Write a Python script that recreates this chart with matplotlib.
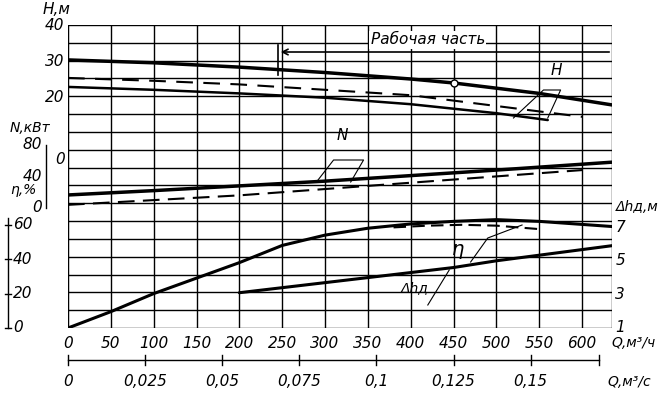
import numpy as np
import matplotlib
matplotlib.use('Agg')
import matplotlib.pyplot as plt

# Подача, м3/ч
q_h_top = [0, 100, 200, 300, 400, 450, 550, 635]
h_top = [30.3, 29.5, 28.3, 26.8, 25.0, 23.9, 21.0, 17.8]
q_h_dash = [0, 100, 200, 300, 400, 500, 600]
h_dash = [25.3, 24.5, 23.5, 22.0, 20.5, 17.5, 14.5]
q_h_low = [0, 100, 200, 300, 400, 500, 560]
h_low = [22.8, 22.0, 21.0, 19.8, 18.0, 15.5, 13.6]

q_n = [0, 100, 200, 300, 400, 500, 635]
n_top = [16.5, 22, 28, 34, 41, 48, 58]
q_n2 = [0, 100, 200, 300, 400, 500, 600]
n_low = [4, 10, 16, 24, 32, 40, 48]

q_eta = [0, 50, 100, 150, 200, 250, 300, 350, 400, 450, 500, 550, 635]
eta = [0, 9.5, 20, 29, 38, 48, 54, 58, 60.5, 62, 63, 62, 59]
q_eta2 = [380, 420, 460, 500, 550]
eta2 = [58.5, 59.5, 60, 59.5, 57.5]

q_dh = [200, 300, 400, 450, 500, 560, 635]
dh = [3.1, 3.7, 4.3, 4.6, 5.0, 5.4, 5.9]

q_labels = [0, 50, 100, 150, 200, 250, 300, 350, 400, 450, 500, 550, 600]
qs_labels = ['0', '0,025', '0,05', '0,075', '0,1', '0,125', '0,15']
qs_values = [0, 0.025, 0.05, 0.075, 0.1, 0.125, 0.15]

# перевод величин в пиксельную высоту исходного листа
def yH(v): return 25 + (40 - np.asarray(v)) * 3.6
def yN(v): return 208 - np.asarray(v) * 0.79
def yE(v): return 328 - np.asarray(v) * 1.72
def yD(v): return 328 - (np.asarray(v) - 1) * 16.8

plt.rcParams['font.family'] = 'DejaVu Sans'
plt.rcParams['font.style'] = 'italic'
fig = plt.figure(figsize=(6.7, 4.0), dpi=100)
ax = fig.add_axes([68/670, 72/400, 544/670, 303/400])
ax.set_xlim(0, 635)
ax.set_ylim(328, 25)
ax.axis('off')

# сетка
for k in range(18):
    ax.axhline(25 + k * 303/17, color='k', lw=1.0)
for q in q_labels + [635]:
    ax.axvline(q, color='k', lw=1.0)
ax.plot([0, 0], [25, 328], color='k', lw=1.5)

kw = dict(color='k', solid_capstyle='round')
ax.plot(q_h_top, yH(h_top), lw=2.5, **kw)
ax.plot(q_h_dash, yH(h_dash), lw=1.5, ls=(0, (8, 5)), color='k')
ax.plot(q_h_low, yH(h_low), lw=1.8, **kw)
ax.plot(q_n, yN(n_top), lw=2.5, **kw)
ax.plot(q_n2, yN(n_low), lw=1.5, ls=(0, (8, 4)), color='k')
ax.plot(q_eta, yE(eta), lw=2.2, **kw)
ax.plot(q_eta2, yE(eta2), lw=1.5, ls=(0, (6, 3)), color='k')
ax.plot(q_dh, yD(dh), lw=2.2, **kw)
ax.plot([450], yH([23.9]), 'o', mfc='white', mec='k', ms=5)

# рабочая часть
ax.annotate('', xy=(245, 52), xytext=(635, 52),
            arrowprops=dict(arrowstyle='->', color='k', lw=1.2))
ax.plot([245, 245], [45, 75], color='k', lw=1.2)
ax.text(420, 40, 'Рабочая часть', fontsize=11, ha='center', va='center',
        bbox=dict(fc='white', ec='none', pad=1))

# подписи кривых
ax.text(570, 75, 'H', fontsize=11, ha='center')
ax.plot([520, 555, 575, 560], [118, 90, 90, 118], color='k', lw=0.8)
ax.text(320, 140, 'N', fontsize=11, ha='center')
ax.plot([290, 310, 345, 330], [182, 160, 160, 182], color='k', lw=0.8)
ax.text(455, 255, 'η', fontsize=14, ha='center')
ax.plot([470, 490, 530], [262, 238, 225], color='k', lw=0.8)
ax.text(405, 292, 'Δhд', fontsize=10, ha='center')
ax.plot([420, 445], [305, 270], color='k', lw=0.8)

# левые шкалы
def lt(y, s, size=11):
    ax.text(-4, y, s, fontsize=size, ha='right', va='center', clip_on=False)
for v in [40, 30, 20]:
    lt(yH(v), str(v))
ax.text(-30, 10, 'H,м', fontsize=11, ha='left', va='center', clip_on=False)
ax.text(-68, 128, 'N,кВт', fontsize=10, ha='left', va='center', clip_on=False)
for v, s in [(80, '80'), (40, '40')]:
    ax.text(-30, yN(v), s, fontsize=11, ha='right', va='center', clip_on=False)
ax.text(-4, 160, '0', fontsize=11, ha='right', va='center', clip_on=False)
ax.plot([-26, -26], [yN(80), yN(0)], color='k', lw=1, clip_on=False)
ax.text(-68, 190, 'η,%', fontsize=10, ha='left', va='center', clip_on=False)
ax.text(-30, yN(0), '0', fontsize=11, ha='right', va='center', clip_on=False)
ax.plot([-70, -70], [yE(64), yE(0)], color='k', lw=1, clip_on=False)
for v in [60, 40, 20, 0]:
    ax.plot([-74, -66], [yE(v)] * 2, color='k', lw=1, clip_on=False)
    ax.text(-64, yE(v), str(v), fontsize=11, ha='left', va='center', clip_on=False)

# правая шкала Δhд
for v in [1, 3, 5, 7]:
    ax.text(639, yD(v), str(v), fontsize=11, ha='left', va='center', clip_on=False)
ax.text(639, yD(8.2), 'Δhд,м', fontsize=10, ha='left', va='center', clip_on=False)

# нижние шкалы
for q in q_labels:
    ax.text(q, 343, str(q), fontsize=11, ha='center', va='center', clip_on=False)
ax.text(660, 343, 'Q,м³/ч', fontsize=10, ha='center', va='center', clip_on=False)
ax.plot([0, 620], [360, 360], color='k', lw=1, clip_on=False)
for qs, s in zip(qs_values, qs_labels):
    x = qs * 3600
    ax.plot([x, x], [355, 365], color='k', lw=1, clip_on=False)
    ax.text(x, 382, s, fontsize=11, ha='center', va='center', clip_on=False)
ax.plot([620, 620], [355, 365], color='k', lw=1, clip_on=False)
ax.text(655, 382, 'Q,м³/с', fontsize=10, ha='center', va='center', clip_on=False)

fig.savefig('out.png', dpi=100)
